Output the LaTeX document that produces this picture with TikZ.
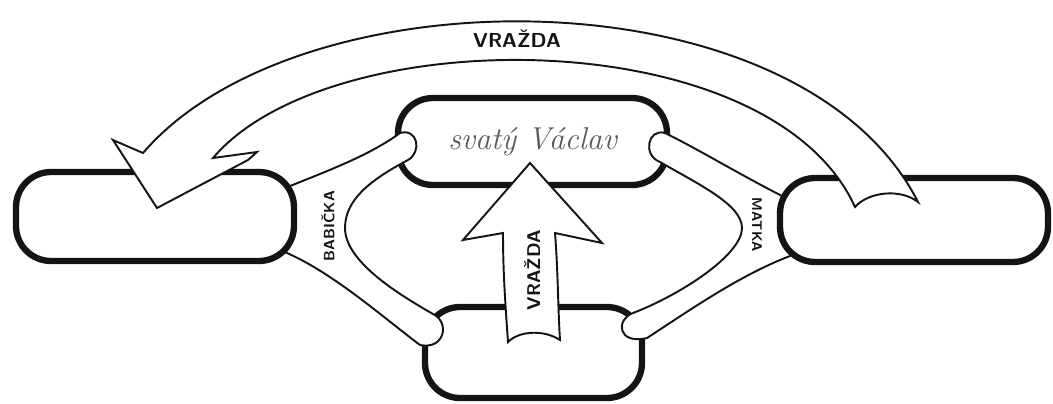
\documentclass[tikz,border=0pt]{standalone}
\usepackage{fontspec}
\usetikzlibrary{positioning}
\definecolor{Ink}{HTML}{141414}
\definecolor{Pencil}{HTML}{5A5A5A}
\tikzset{
sketchbox/.style={draw=Ink, line width=3.6pt, rounded corners=0.7cm, fill=white, inner sep=0pt},
sketchband/.style={draw=Ink, line width=1.1pt, fill=white, line join=round},
sketcharrow/.style={draw=Ink, line width=1.1pt, fill=white, line join=miter},
sketchword/.style={font=\sffamily\bfseries\fontsize{#1}{#1}\selectfont, text=Ink, inner sep=0pt}
}

\begin{document}
\begin{tikzpicture}[x=0.02cm, y=-0.02cm]
  \useasboundingbox (0,0) rectangle (1053,403);
  \node[sketchbox, minimum width=5.38cm, minimum height=1.74cm, text=Pencil, font=\itshape\fontsize{18}{20}\selectfont] (vaclav) at (532.5,141.5) {svatý Václav};
  \node[sketchbox, minimum width=4.34cm, minimum height=1.82cm] (bottom) at (533.5,352.5) {};
  \draw[sketchband] (280,190) .. controls (330,170) and (370,155) .. (400,133) .. controls (418,128) and (422,152) .. (408,160) .. controls (370,180) and (345,200) .. (345,228) .. controls (345,262) and (400,295) .. (433,314) .. controls (450,322) and (445,350) .. (420,345) .. controls (380,315) and (330,270) .. (280,250) -- cycle;
  \draw[sketchband] (790,200) .. controls (740,175) and (700,150) .. (665,133) .. controls (648,128) and (642,155) .. (660,162) .. controls (700,185) and (742,205) .. (742,228) .. controls (742,255) and (680,295) .. (633,313) .. controls (615,320) and (618,345) .. (647,338) .. controls (690,310) and (740,275) .. (790,256) -- cycle;
  \node[sketchbox, minimum width=5.56cm, minimum height=1.78cm] (left) at (155,216.5) {};
  \node[sketchbox, minimum width=5.36cm, minimum height=1.68cm] (right) at (914,220) {};
  \node[sketchword=8.5, rotate=90] (babicka) at (328,226) {BABIČKA};
  \node[sketchword=8, rotate=-90] (matka) at (757,225) {MATKA};
  \draw[sketcharrow] (530,163) -- (602,243) -- (555,233) .. controls (558,270) and (558,310) .. (560,340) .. controls (545,330) and (520,330) .. (508,342) .. controls (505,300) and (503,270) .. (503,233) -- (463,240) -- cycle;
  \node[sketchword=10.5, rotate=90] (upmurder) at (532,270) {VRAŽDA};
  \draw[sketcharrow] (918,202) .. controls (800,-30) and (300,-30) .. (143,153) -- (113,140) -- (157,208) -- (248,160) -- (257,152) -- (213,158) .. controls (330,20) and (770,20) .. (855,207) .. controls (868,192) and (900,188) .. (918,202) -- cycle;
  \node[sketchword=11.5] (topmurder) at (517,39) {VRAŽDA};
\end{tikzpicture}
\end{document}
